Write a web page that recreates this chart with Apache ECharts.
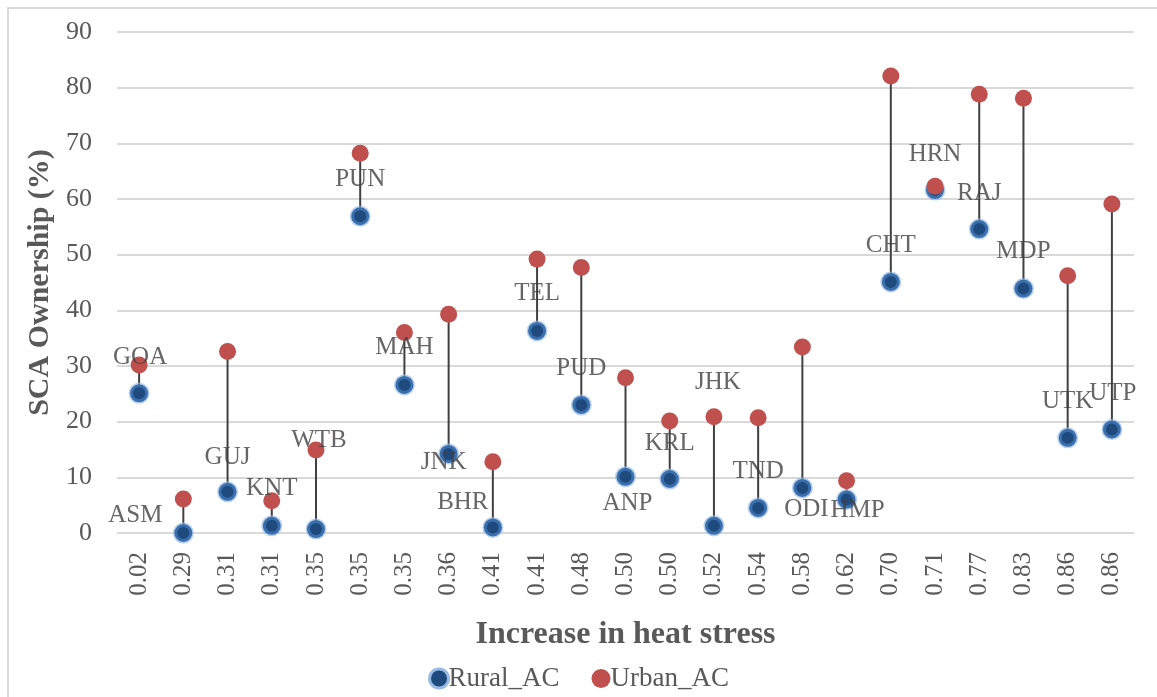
<!DOCTYPE html>
<html>
<head>
<meta charset="utf-8">
<script src="https://cdn.jsdelivr.net/npm/echarts@6/dist/echarts.min.js"></script>
<style>
  html, body { margin: 0; padding: 0; background: #ffffff; }
  #chart { width: 1157px; height: 697px; }
</style>
</head>
<body>
<div id="chart"></div>
<script>
// ---- Data ----
const categories = ['0.02','0.29','0.31','0.31','0.35','0.35','0.35','0.36','0.41','0.41','0.48','0.50','0.50','0.52','0.54','0.58','0.62','0.70','0.71','0.77','0.83','0.86','0.86'];
const states = ['GOA','ASM','GUJ','KNT','WTB','PUN','MAH','JNK','BHR','TEL','PUD','ANP','KRL','JHK','TND','ODI','HMP','CHT','HRN','RAJ','MDP','UTK','UTP'];
const ruralAC = [25.1, 0.0, 7.4, 1.3, 0.7, 56.9, 26.6, 14.2, 1.0, 36.3, 23.0, 10.1, 9.7, 1.3, 4.5, 8.1, 6.0, 45.1, 61.6, 54.6, 43.9, 17.1, 18.6];
const urbanAC = [30.2, 6.1, 32.6, 5.8, 14.9, 68.2, 36.0, 39.3, 12.8, 49.2, 47.7, 27.9, 20.1, 20.9, 20.7, 33.4, 9.4, 82.1, 62.3, 78.8, 78.1, 46.2, 59.1];
const yTicks = [0, 10, 20, 30, 40, 50, 60, 70, 80, 90];

// ---- Label placement (layout only, px offsets from the rural point) ----
const labelOffsets = [
  [1,-36],[-48,-18],[0,-34],[0,-37],[3,-89],[0,-37],[0,-37],[-5,8],[-30,-25],[0,-37],
  [0,-37],[2,27],[0,-36],[4,-143],[0,-37],[4,22],[11,11],[0,-37],[0,-36],[0,-36],
  [0,-37],[0,-36],[1,-36]
];

const FONT = '"Liberation Serif", "DejaVu Serif", serif';

const chart = echarts.init(document.getElementById('chart'), null, { renderer: 'canvas' });

const option = {
  backgroundColor: '#ffffff',
  animation: false,
  graphic: [{
    type: 'rect',
    shape: { x: 8, y: 8, width: 1170, height: 720 },
    style: { fill: 'none', stroke: '#d9d9d9', lineWidth: 2 },
    z: -10
  }],
  grid: { left: 117, right: 23, top: 32, bottom: 164, containLabel: false },
  legend: {
    top: 660,
    left: 'center',
    itemWidth: 19,
    itemHeight: 19,
    itemGap: 32,
    data: [
      { name: 'Rural_AC', icon: 'circle', itemStyle: { color: '#1f4a7e', borderColor: 'rgba(150,186,228,1)', borderWidth: 3 } },
      { name: 'Urban_AC', icon: 'circle' }
    ],
    textStyle: { fontFamily: FONT, fontSize: 27, color: '#595959', padding: [0, 0, 0, -5] }
  },
  xAxis: {
    type: 'category',
    data: categories,
    boundaryGap: true,
    name: 'Increase in heat stress',
    nameLocation: 'middle',
    nameGap: 86,
    nameTextStyle: { fontFamily: FONT, fontSize: 32, fontWeight: 'bold', color: '#595959' },
    axisLine: { show: false },
    axisTick: { show: false },
    axisLabel: { rotate: 90, interval: 0, margin: 19, fontFamily: FONT, fontSize: 25, color: '#595959' },
    splitLine: { show: false }
  },
  yAxis: {
    type: 'value',
    min: 0,
    max: 90,
    interval: 10,
    name: 'SCA Ownership (%)',
    nameLocation: 'middle',
    nameGap: 62,
    nameTextStyle: { fontFamily: FONT, fontSize: 30, fontWeight: 'bold', color: '#595959' },
    axisLine: { show: false },
    axisTick: { show: false },
    axisLabel: {
      margin: 25, fontFamily: FONT, fontSize: 26, color: '#595959',
      formatter: v => (yTicks.indexOf(v) >= 0 ? String(v) : '')
    },
    splitLine: { show: true, lineStyle: { color: '#d9d9d9', width: 2 } }
  },
  series: [
    {
      name: 'droplines',
      type: 'custom',
      z: 1,
      silent: true,
      data: categories.map((c, i) => [i, ruralAC[i], urbanAC[i]]),
      encode: { x: 0, y: [1, 2] },
      renderItem: function (params, api) {
        const a = api.coord([api.value(0), api.value(1)]);
        const b = api.coord([api.value(0), api.value(2)]);
        return {
          type: 'line',
          shape: { x1: a[0], y1: a[1], x2: b[0], y2: b[1] },
          style: { stroke: '#404040', lineWidth: 2 }
        };
      }
    },
    {
      name: 'Rural_AC',
      type: 'scatter',
      z: 3,
      symbol: 'circle',
      symbolSize: 15,
      itemStyle: { color: '#1f4a7e', borderColor: '#3a6fae', borderWidth: 3, opacity: 1 },
      data: ruralAC.map((v, i) => [i, v])
    },
    {
      name: 'ruralHalo',
      type: 'scatter',
      z: 2,
      silent: true,
      symbol: 'circle',
      symbolSize: 21,
      itemStyle: { color: 'rgba(150,186,228,0.85)' },
      data: ruralAC.map((v, i) => [i, v])
    },
    {
      name: 'Urban_AC',
      type: 'scatter',
      z: 4,
      symbol: 'circle',
      symbolSize: 17,
      itemStyle: { color: '#c0504d', opacity: 1 },
      data: urbanAC.map((v, i) => [i, v])
    },
    {
      name: 'stateLabels',
      type: 'scatter',
      z: 10,
      silent: true,
      symbolSize: 0,
      itemStyle: { color: 'rgba(0,0,0,0)' },
      data: ruralAC.map((v, i) => ({
        value: [i, v],
        label: {
          show: true,
          position: 'inside',
          offset: labelOffsets[i],
          formatter: states[i],
          fontFamily: FONT,
          fontSize: 25,
          color: '#404040'
        }
      }))
    }
  ]
};

chart.setOption(option);
</script>
</body>
</html>
